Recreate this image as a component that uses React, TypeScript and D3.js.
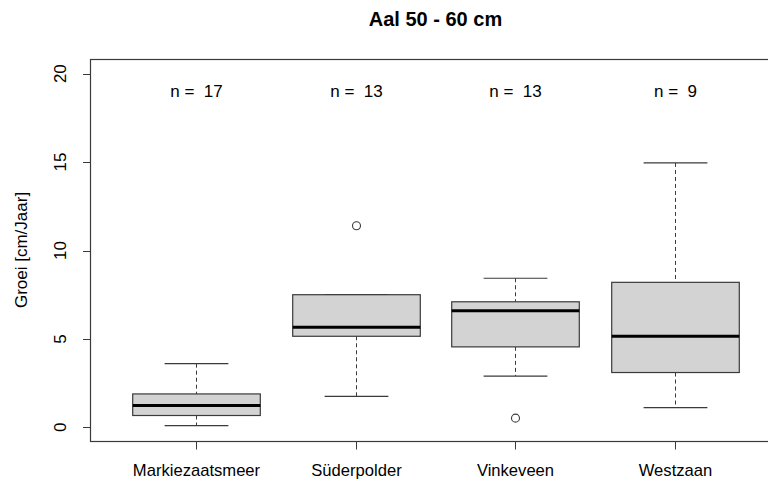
import React from "react";
import * as d3 from "d3";

const categories = ["Markiezaatsmeer", "Süderpolder", "Vinkeveen", "Westzaan"];
const counts = [17, 13, 13, 9];
const lowerWhisker = [0.1, 1.75, 2.9, 1.12];
const q1 = [0.67, 5.15, 4.55, 3.1];
const medians = [1.23, 5.66, 6.6, 5.15];
const q3 = [1.89, 7.5, 7.1, 8.2];
const upperWhisker = [3.6, 7.5, 8.43, 14.95];
const outliers: number[][] = [[], [11.4], [0.52], []];
const yTicks = [0, 5, 10, 15, 20];
const title = "Aal 50 - 60 cm";
const yLabel = "Groei [cm/Jaar]";

const W = 768;
const H = 481;
const plotLeft = 91;
const plotRight = 780;
const plotTop = 59.5;
const plotBottom = 441.5;

export default function App() {
  const x = d3.scaleLinear().domain([0.34, 4.66]).range([plotLeft, plotRight]);
  const y = d3.scaleLinear().domain([-0.8, 20.8]).range([plotBottom, plotTop]);
  const boxW = (x(2) - x(1)) * 0.8;
  const font = "'Liberation Sans', Arial, sans-serif";
  const stroke = "#3a3a3a";

  return (
    <svg
      width={W}
      height={H}
      style={{ position: "absolute", left: 0, top: 0, background: "#fff" }}
      fontFamily={font}
    >
      <rect x={0} y={0} width={W} height={H} fill="#fff" />
      <text x={(plotLeft + plotRight) / 2} y={26} textAnchor="middle" fontWeight="bold" fontSize={20}>
        {title}
      </text>
      {categories.map((c, i) => {
        const cx = Math.round(x(i + 1)) + 0.5;
        return (
          <g key={c}>
            <line x1={cx} x2={cx} y1={y(upperWhisker[i])} y2={y(q3[i])} stroke={stroke} strokeDasharray="4,3" />
            <line x1={cx} x2={cx} y1={y(q1[i])} y2={y(lowerWhisker[i])} stroke={stroke} strokeDasharray="4,3" />
            <line x1={cx - boxW / 4} x2={cx + boxW / 4} y1={y(upperWhisker[i])} y2={y(upperWhisker[i])} stroke={stroke} strokeWidth={1.2} />
            <line x1={cx - boxW / 4} x2={cx + boxW / 4} y1={y(lowerWhisker[i])} y2={y(lowerWhisker[i])} stroke={stroke} strokeWidth={1.2} />
            <rect
              x={cx - boxW / 2}
              y={y(q3[i])}
              width={boxW}
              height={y(q1[i]) - y(q3[i])}
              fill="#d3d3d3"
              stroke={stroke}
              strokeWidth={1.2}
            />
            <line x1={cx - boxW / 2} x2={cx + boxW / 2} y1={y(medians[i])} y2={y(medians[i])} stroke="#000" strokeWidth={3} />
            {outliers[i].map((o, j) => (
              <circle key={j} cx={cx} cy={y(o)} r={4} fill="none" stroke={stroke} strokeWidth={1.1} />
            ))}
            <text x={cx} y={y(19) + 6} textAnchor="middle" fontSize={17} style={{ whiteSpace: "pre" }} xmlSpace="preserve">
              {`n =  ${counts[i]}`}
            </text>
            <line x1={cx} x2={cx} y1={plotBottom} y2={plotBottom + 8} stroke={stroke} />
            <text x={cx} y={476} textAnchor="middle" fontSize={16.6}>
              {c}
            </text>
          </g>
        );
      })}
      {yTicks.map((t) => (
        <g key={t}>
          <line x1={plotLeft} x2={plotLeft - 8} y1={Math.round(y(t)) + 0.5} y2={Math.round(y(t)) + 0.5} stroke={stroke} />
          <text transform={`translate(66,${y(t)}) rotate(-90)`} textAnchor="middle" fontSize={17}>
            {t}
          </text>
        </g>
      ))}
      <text transform={`translate(27,${250}) rotate(-90)`} textAnchor="middle" fontSize={17}>
        {yLabel}
      </text>
      <rect
        x={plotLeft - 0.5}
        y={plotTop}
        width={plotRight - plotLeft}
        height={plotBottom - plotTop}
        fill="none"
        stroke={stroke}
        strokeWidth={1.2}
      />
    </svg>
  );
}
